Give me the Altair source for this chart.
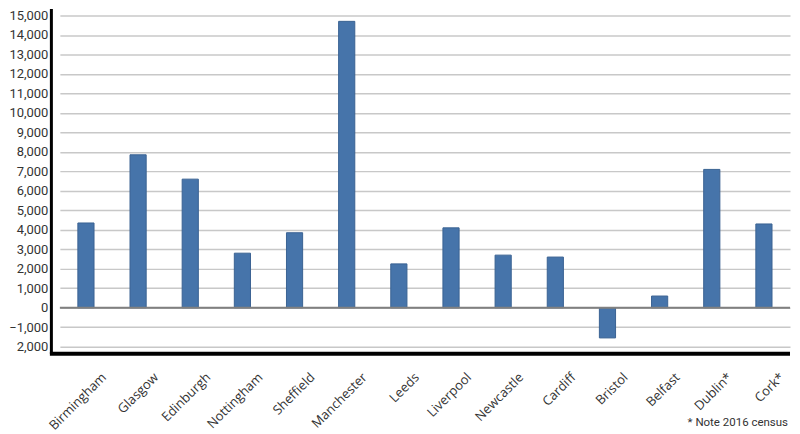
import altair as alt
import pandas as pd

cities = ["Birmingham", "Glasgow", "Edinburgh", "Nottingham", "Sheffield", "Manchester",
          "Leeds", "Liverpool", "Newcastle", "Cardiff", "Bristol", "Belfast", "Dublin*", "Cork*"]
values = [4350, 7850, 6600, 2800, 3850, 14700, 2250, 4100, 2700, 2600, -1550, 600, 7100, 4300]
y_ticks = list(range(-2000, 16000, 1000))
note = "* Note 2016 census"

df = pd.DataFrame({"city": cities, "value": values})
one = pd.DataFrame({"note": [note]})

W, H = 732, 346

y_scale = alt.Scale(domain=[-2358, 15358], nice=False, zero=False)
y_axis = alt.Axis(title=None, values=y_ticks, grid=True, gridColor="#c8c8c8",
                  gridWidth=1.5, ticks=False, domain=True, domainColor="#000000",
                  domainWidth=3, offset=9, labelFont="Roboto", labelFontSize=13,
                  labelColor="#333333", labelPadding=3, labelOverlap=False,
                  labelExpr="datum.value == -2000 ? '2,000' : format(datum.value, ',')")

bars = alt.Chart(df).mark_bar(color="#4674aa", stroke="#3a6293", strokeWidth=1).encode(
    x=alt.X("city:N", sort=cities,
            scale=alt.Scale(paddingInner=0.69, paddingOuter=0.345),
            axis=alt.Axis(title=None, labelAngle=-45, labelAlign="right", labelBaseline="top",
                          labelFont="Open Sans", labelFontSize=13, labelColor="#333333",
                          labelOverlap=False, labelBound=False,
                          labelOffset=14, labelPadding=17, domain=False, ticks=False)),
    y=alt.Y("value:Q", scale=y_scale, axis=y_axis),
)

zero = alt.Chart(one).mark_rule(color="#808080", strokeWidth=2).encode(
    y=alt.YDatum(0, scale=y_scale, axis=y_axis))

bottom = alt.Chart(one).mark_rule(color="#000000", strokeWidth=4).encode(
    x=alt.value(-10), x2=alt.value(W), y=alt.value(H))

note_txt = alt.Chart(one).mark_text(align="right", baseline="top", font="Roboto", fontSize=11.5,
                                    fontWeight="normal", color="#333333").encode(
    x=alt.value(W - 2), y=alt.value(H + 64), text="note:N")

chart = alt.layer(bars, zero, bottom, note_txt).properties(
    width=W, height=H, padding=0
).configure_view(stroke=None)

chart.save("out.html", embed_options={"renderer": "svg", "actions": False})
